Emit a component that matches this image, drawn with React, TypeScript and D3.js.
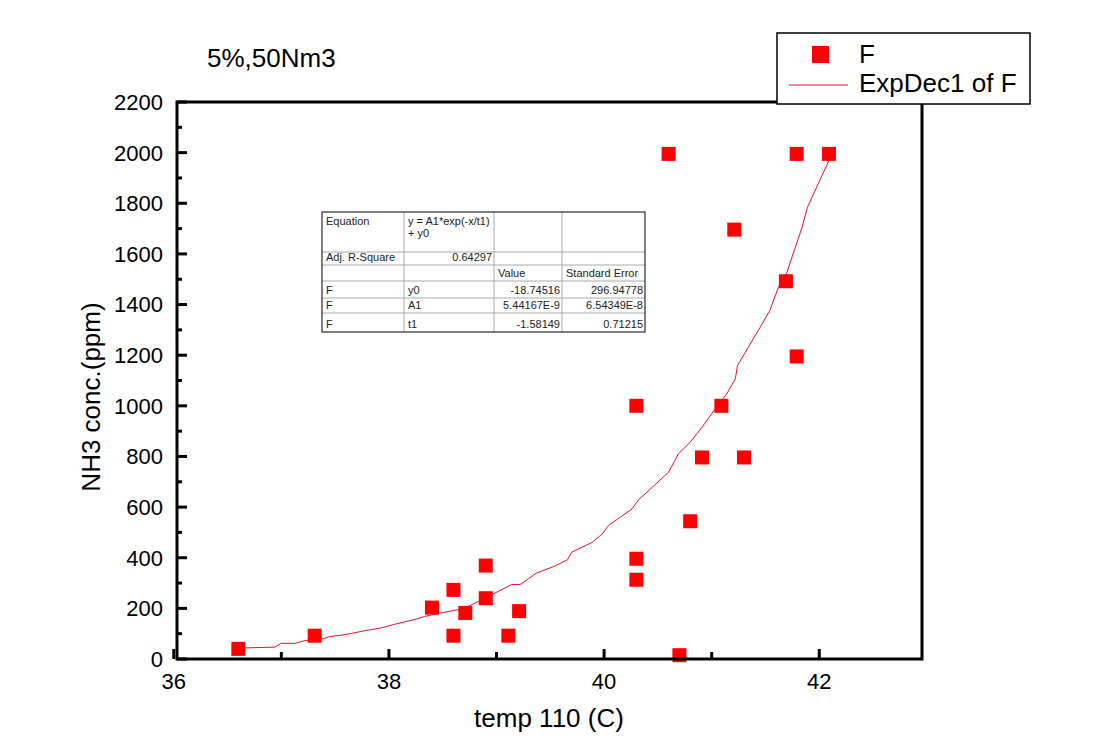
import React from "react";
import * as d3 from "d3";

// Scatter data (temp 110 (C) vs NH3 conc. (ppm))
const tempX = [36.6, 37.31, 38.4, 38.6, 38.6, 38.71, 38.9, 38.9, 39.11, 39.21, 40.3, 41.09, 40.91, 41.3, 41.79, 40.8, 40.3, 40.3, 40.7, 40.6, 41.79, 42.09, 41.21, 41.69];
const nh3Y = [40, 92, 203, 273, 92, 182, 369, 240, 92, 189, 1000, 1000, 796, 796, 1195, 544, 396, 313, 15, 1995, 1995, 1995, 1696, 1492];

// ExpDec1 fit curve
const fitX = [36.6, 36.94, 37.0, 37.13, 37.22, 37.39, 37.45, 37.54, 37.64, 37.79, 37.92, 38.07, 38.23, 38.33, 38.47, 38.63, 38.69, 38.85, 38.97, 39.14, 39.22, 39.37, 39.53, 39.66, 39.7, 39.89, 39.99, 40.04, 40.15, 40.26, 40.32, 40.38, 40.6, 40.69, 40.8, 40.91, 41.02, 41.14, 41.22, 41.24, 41.34, 41.45, 41.54, 41.62, 41.7, 41.84, 41.89, 41.99, 42.09];
const fitY = [43, 47, 62, 62, 73, 80, 89, 93, 100, 113, 122, 139, 155, 168, 181, 194, 198, 231, 257, 294, 294, 339, 365, 392, 422, 461, 497, 527, 560, 593, 629, 652, 738, 810, 856, 915, 981, 1047, 1107, 1159, 1231, 1310, 1376, 1468, 1528, 1705, 1784, 1877, 1969];

const xTicksMajor = [36, 38, 40, 42];
const xTicksMinor = [37, 39, 41];
const yTicksMajor = [0, 200, 400, 600, 800, 1000, 1200, 1400, 1600, 1800, 2000, 2200];
const yTicksMinor = [100, 300, 500, 700, 900, 1100, 1300, 1500, 1700, 1900, 2100];

const tableRows = [
  ["Equation", "y = A1*exp(-x/t1)|+ y0", "", ""],
  ["Adj. R-Square", "0.64297", "", ""],
  ["", "", "Value", "Standard Error"],
  ["F", "y0", "-18.74516", "296.94778"],
  ["F", "A1", "5.44167E-9", "6.54349E-8"],
  ["F", "t1", "-1.58149", "0.71215"],
];

const W = 1109, H = 748;
const L = 177, R = 922, T = 102, B = 659;
const FONT = "'Liberation Sans', Arial, sans-serif";

export default function App() {
  const x = d3.scaleLinear().domain([36.03, 42.955]).range([L, R]);
  const y = d3.scaleLinear().domain([0, 2200]).range([B, T]);
  const line = d3.line<number>().x((_, i) => x(fitX[i])).y((_, i) => y(fitY[i]));
  const ms = 14;

  // table geometry
  const tx = [322, 404, 494, 562, 645];
  const ty = [212, 252, 265, 281, 298, 313, 332];

  return (
    <svg width={W} height={H} style={{ position: "absolute", left: 0, top: 0, background: "#fff" }} fontFamily={FONT}>
      <rect x={0} y={0} width={W} height={H} fill="#fff" />
      {/* fit curve */}
      <path d={line(fitX) || ""} fill="none" stroke="#e8102a" strokeWidth={1} />
      {/* markers */}
      {tempX.map((v, i) => (
        <rect key={i} x={x(v) - ms / 2} y={y(nh3Y[i]) - ms / 2} width={ms} height={ms} fill="#ff0000" />
      ))}
      {/* frame */}
      <rect x={L} y={T} width={R - L} height={B - T} fill="none" stroke="#000" strokeWidth={3} />
      {/* ticks */}
      {yTicksMajor.map((t) => (
        <line key={"ym" + t} x1={L} x2={L + 10} y1={y(t)} y2={y(t)} stroke="#000" strokeWidth={3} />
      ))}
      {yTicksMinor.map((t) => (
        <line key={"yn" + t} x1={L} x2={L + 5} y1={y(t)} y2={y(t)} stroke="#000" strokeWidth={3} />
      ))}
      {xTicksMajor.map((t) => (
        <line key={"xm" + t} x1={x(t)} x2={x(t)} y1={B} y2={B - 10} stroke="#000" strokeWidth={3} />
      ))}
      {xTicksMinor.map((t) => (
        <line key={"xn" + t} x1={x(t)} x2={x(t)} y1={B} y2={B - 7} stroke="#000" strokeWidth={3} />
      ))}
      {/* tick labels */}
      {yTicksMajor.map((t) => (
        <text key={"yl" + t} x={163} y={y(t)} dy="0.36em" textAnchor="end" fontSize={22} fill="#000">{t}</text>
      ))}
      {xTicksMajor.map((t) => (
        <text key={"xl" + t} x={x(t)} y={689} textAnchor="middle" fontSize={22} fill="#000">{t}</text>
      ))}
      {/* axis titles */}
      <text x={549} y={727} textAnchor="middle" fontSize={26} fill="#000">temp 110 (C)</text>
      <text transform={`translate(100,397) rotate(-90)`} textAnchor="middle" fontSize={26} fill="#000">NH3 conc.(ppm)</text>
      <text x={207} y={67} fontSize={26} fill="#000">5%,50Nm3</text>

      {/* fit table */}
      <g fontSize={11} fill="#222">
        {ty.slice(1, -1).map((yy) => (
          <line key={"h" + yy} x1={tx[0]} x2={tx[4]} y1={yy} y2={yy} stroke="#aaa" strokeWidth={1} />
        ))}
        {tx.slice(1, -1).map((xx) => (
          <line key={"v" + xx} x1={xx} x2={xx} y1={ty[0]} y2={ty[6]} stroke="#aaa" strokeWidth={1} />
        ))}
        <rect x={tx[0]} y={ty[0]} width={tx[4] - tx[0]} height={ty[6] - ty[0]} fill="none" stroke="#000" strokeWidth={1} />
        {tableRows.map((row, ri) =>
          row.map((cell, ci) => {
            if (!cell) return null;
            const base = ri === 0 ? ty[0] + 13 : ty[ri + 1] - 4;
            const rightAlign = (ri === 1 && ci === 1) || (ri >= 3 && ci >= 2);
            const xx = rightAlign ? tx[ci + 1] - 2 : tx[ci] + 4;
            const lines = cell.split("|");
            return lines.map((ln, li) => (
              <text key={`${ri}-${ci}-${li}`} x={xx} y={base + li * 12} textAnchor={rightAlign ? "end" : "start"}>{ln}</text>
            ));
          })
        )}
      </g>

      {/* legend */}
      <rect x={777} y={33} width={253} height={71} fill="#fff" stroke="#000" strokeWidth={1.5} />
      <rect x={812} y={46} width={17} height={17} fill="#ff0000" />
      <line x1={789} x2={848} y1={85} y2={85} stroke="#e8102a" strokeWidth={1} />
      <text x={859} y={63} fontSize={26} fill="#000">F</text>
      <text x={859} y={92} fontSize={26} fill="#000">ExpDec1 of F</text>
    </svg>
  );
}
